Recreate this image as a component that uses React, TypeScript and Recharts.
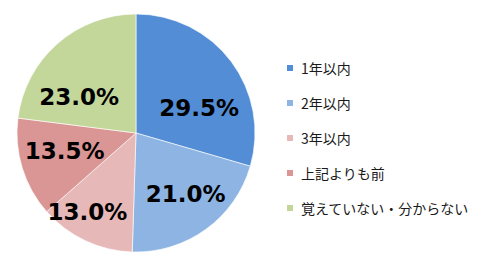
import React from 'react';
import { PieChart, Pie, Cell, Legend } from 'recharts';

// categories and shares (%)
const categories = ['1年以内', '2年以内', '3年以内', '上記よりも前', '覚えていない・分からない'];
const shares = [29.5, 21.0, 13.0, 13.5, 23.0];
const COLORS = ['#538DD5', '#8DB4E2', '#E6B8B7', '#DA9694', '#C4D79B'];

// label placement nudges (Excel "best fit"-ish): angle shift in degrees, radius as share of outer radius
const LABEL_NUDGE = [
  { dAngle: -15.6, r: 0.57 },
  { dAngle: 3.3, r: 0.66 },
  { dAngle: -6.5, r: 0.776 },
  { dAngle: -2.6, r: 0.62 },
  { dAngle: 16.3, r: 0.566 },
];

const data = categories.map((name, i) => ({ name, value: shares[i] }));

const RADIAN = Math.PI / 180;

const renderLabel = (props: any) => {
  const { cx, cy, midAngle, outerRadius, value, index } = props;
  const nudge = LABEL_NUDGE[index];
  const angle = midAngle + nudge.dAngle;
  const r = outerRadius * nudge.r;
  const x = cx + r * Math.cos(-angle * RADIAN);
  const y = cy + r * Math.sin(-angle * RADIAN);
  return (
    <text
      x={x}
      y={y}
      fill="#000"
      textAnchor="middle"
      dominantBaseline="central"
      style={{ fontFamily: 'DejaVu Sans', fontWeight: 'bold', fontSize: 23 }}
    >
      {`${value.toFixed(1)}%`}
    </text>
  );
};

const renderLegend = () => (
  <div style={{ fontFamily: '"Noto Sans CJK JP", sans-serif', fontSize: 14, color: '#1a1a1a' }}>
    {categories.map((name, i) => (
      <div key={name} style={{ height: 35, display: 'flex', alignItems: 'center' }}>
        <span style={{ width: 6, height: 6, background: COLORS[i], marginRight: 8, display: 'inline-block' }} />
        <span>{name}</span>
      </div>
    ))}
  </div>
);

const App = () => {
  return (
    <PieChart width={478} height={250} margin={{ top: 0, right: 0, bottom: 0, left: 0 }}>
      <Pie
        data={data}
        dataKey="value"
        nameKey="name"
        cx={128}
        cy={125}
        outerRadius={119}
        startAngle={90}
        endAngle={-270}
        labelLine={false}
        label={renderLabel}
        stroke="#ffffff"
        strokeWidth={0.6}
        isAnimationActive={false}
      >
        {data.map((entry, index) => (
          <Cell key={`cell-${index}`} fill={COLORS[index]} />
        ))}
      </Pie>
      <Legend
        content={renderLegend}
        wrapperStyle={{ left: 279, top: 42, width: 200 }}
      />
    </PieChart>
  );
};

export default App;
